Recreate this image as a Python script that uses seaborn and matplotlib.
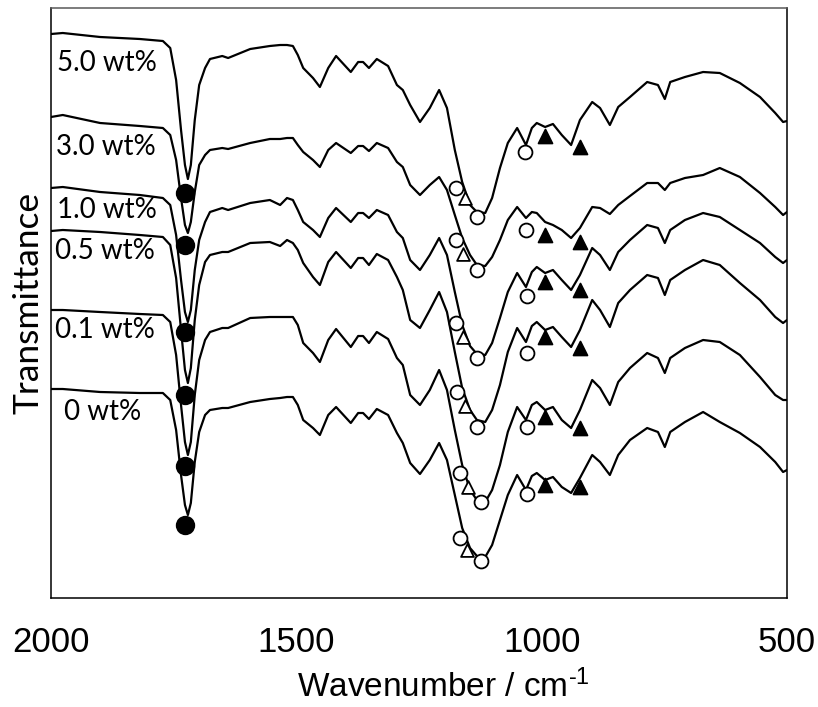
import numpy as np
import pandas as pd
import matplotlib
matplotlib.use("Agg")
import matplotlib.pyplot as plt
from matplotlib.ticker import FixedLocator, MultipleLocator
import seaborn as sns

# ---------------- data ----------------
wavenumber = [2000, 1976, 1900, 1819, 1772, 1757, 1745, 1735, 1727, 1721,
              1715, 1707, 1698, 1686, 1676, 1651, 1639, 1594, 1554, 1533,
              1519, 1507, 1497, 1486, 1466, 1452, 1435, 1419, 1389, 1374,
              1364, 1352, 1336, 1313, 1295, 1283, 1268, 1248, 1228, 1209,
              1193, 1177, 1162, 1146, 1132, 1115, 1101, 1085, 1069, 1050,
              1032, 1020, 1010, 993, 977, 959, 940, 922, 897, 881,
              861, 844, 820, 785, 763, 749, 738, 708, 671, 637,
              596, 555, 524, 508, 500]

samples = ["5.0 wt%", "3.0 wt%", "1.0 wt%", "0.5 wt%", "0.1 wt%", "0 wt%"]

t_50 = [566, 567, 563, 561, 559, 552, 520, 470, 435, 421,
        435, 480, 515, 532, 541, 544, 542, 551, 554, 555,
        555, 554, 545, 532, 522, 513, 532, 544, 528, 538,
        538, 532, 541, 534, 515, 510, 495, 478, 492, 510,
        492, 450, 418, 395, 388, 387, 402, 432, 457, 472,
        455, 472, 477, 473, 476, 465, 455, 480, 498, 492,
        475, 493, 503, 518, 515, 501, 518, 523, 528, 527,
        517, 503, 487, 478, 479]
t_30 = [483, 485, 477, 474, 472, 465, 440, 402, 375, 367,
        378, 408, 435, 445, 450, 452, 451, 457, 461, 461,
        462, 462, 455, 448, 440, 433, 450, 457, 447, 454,
        454, 449, 457, 452, 438, 433, 415, 405, 415, 423,
        410, 385, 362, 345, 335, 334, 343, 360, 380, 393,
        382, 388, 387, 378, 375, 370, 362, 372, 393, 392,
        386, 395, 404, 417, 417, 410, 417, 422, 425, 432,
        423, 407, 393, 385, 388]
t_10 = [412, 413, 408, 405, 402, 395, 365, 320, 288, 278,
        290, 330, 360, 378, 388, 392, 390, 397, 400, 395,
        402, 400, 390, 378, 370, 363, 382, 392, 378, 387,
        387, 382, 390, 385, 368, 362, 340, 330, 345, 362,
        345, 308, 275, 254, 246, 245, 257, 282, 308, 327,
        313, 328, 333, 327, 330, 320, 310, 325, 352, 345,
        330, 348, 360, 375, 372, 357, 370, 380, 387, 383,
        370, 357, 343, 337, 340]
t_05 = [369, 370, 368, 365, 363, 355, 322, 270, 230, 217,
        232, 280, 315, 338, 345, 348, 348, 357, 358, 354,
        360, 357, 350, 337, 323, 315, 338, 348, 332, 342,
        342, 335, 346, 340, 323, 310, 280, 272, 290, 308,
        288, 248, 212, 190, 180, 178, 190, 215, 248, 272,
        258, 274, 278, 270, 273, 263, 253, 270, 300, 290,
        273, 297, 310, 325, 322, 305, 320, 330, 340, 335,
        317, 300, 283, 277, 280]
t_01 = [290, 290, 288, 286, 285, 278, 245, 195, 158, 145,
        158, 205, 240, 260, 268, 272, 272, 282, 283, 283,
        283, 283, 275, 257, 247, 238, 260, 271, 253, 264,
        264, 257, 268, 261, 242, 235, 205, 195, 210, 230,
        210, 170, 135, 110, 100, 98, 110, 135, 168, 193,
        180, 195, 198, 190, 193, 180, 172, 190, 220, 212,
        195, 218, 232, 247, 242, 227, 242, 252, 260, 258,
        245, 223, 205, 200, 200]
t_00 = [211, 211, 208, 207, 207, 200, 170, 125, 95, 85,
        97, 138, 168, 185, 190, 192, 192, 198, 201, 202,
        203, 203, 195, 180, 172, 165, 185, 193, 177, 187,
        187, 181, 191, 185, 167, 157, 137, 126, 140, 157,
        140, 105, 72, 52, 44, 43, 55, 80, 105, 125,
        110, 124, 127, 120, 123, 113, 107, 122, 145, 138,
        125, 145, 160, 172, 168, 153, 168, 178, 188, 178,
        167, 153, 138, 128, 130]

# band markers: positions (cm-1) and levels, one per spectrum
co_wn = [1727, 1727, 1727, 1727, 1727, 1727]
co_t = [407, 355, 268, 205, 134, 75]
oc1_wn = [1175, 1175, 1175, 1173, 1167, 1167]
oc1_t = [412, 360, 277, 208, 127, 62]
otri_wn = [1156, 1160, 1160, 1156, 1150, 1152]
otri_t = [402, 346, 263, 194, 113, 50]
oc2_wn = [1132, 1132, 1132, 1132, 1124, 1124]
oc2_t = [383, 330, 242, 173, 98, 39]
oc3_wn = [1034, 1032, 1030, 1030, 1030, 1030]
oc3_t = [448, 370, 304, 247, 173, 106]
ftri1_wn = [993, 993, 993, 993, 993, 993]
ftri1_t = [464, 365, 318, 263, 183, 115]
ftri2_wn = [922, 922, 922, 922, 922, 922]
ftri2_t = [453, 358, 310, 252, 172, 113]

# label anchors (left x in cm-1, baseline level)
label_wn = [1988, 1990, 1988, 1992, 1992, 1974]
label_t = [529, 445, 382, 341, 262, 180]

# ---------------- plotting ----------------
sns.set_style("white")
plt.rcParams["font.family"] = ["Liberation Sans", "DejaVu Sans"]
plt.rcParams["text.color"] = "black"
plt.rcParams["axes.labelcolor"] = "black"
plt.rcParams["xtick.color"] = "black"
plt.rcParams["mathtext.fontset"] = "custom"
plt.rcParams["mathtext.rm"] = "Liberation Sans"
plt.rcParams["mathtext.it"] = "Liberation Sans:italic"
plt.rcParams["mathtext.bf"] = "Liberation Sans:bold"
plt.rcParams["lines.solid_joinstyle"] = "round"

fig = plt.figure(figsize=(8.18, 7.07), dpi=100)
ax = fig.add_axes([51 / 818, 1 - 598 / 707, 736 / 818, 590 / 707])

traces = [t_50, t_30, t_10, t_05, t_01, t_00]
df = pd.DataFrame({
    "wn": np.concatenate([wavenumber] * len(traces)),
    "T": np.concatenate(traces),
    "sample": np.repeat(samples, len(wavenumber)),
})
sns.lineplot(data=df, x="wn", y="T", units="sample", estimator=None,
             sort=False, color="black", linewidth=1.6, ax=ax, legend=False)

def mk(xs, ys, marker, filled, size):
    sns.scatterplot(x=xs, y=ys, marker=marker, s=size,
                    color="black" if filled else "white",
                    edgecolor="black", linewidth=1.3, ax=ax,
                    legend=False, zorder=5)

mk(co_wn, co_t, "o", True, 160)
mk(oc1_wn, oc1_t, "o", False, 100)
mk(otri_wn, otri_t, "^", False, 85)
mk(oc2_wn, oc2_t, "o", False, 100)
mk(oc3_wn, oc3_t, "o", False, 100)
mk(ftri1_wn, ftri1_t, "^", True, 100)
mk(ftri2_wn, ftri2_t, "^", True, 100)

for s, x, y in zip(samples, label_wn, label_t):
    ax.text(x, y, s, ha="left", va="baseline", fontsize=20,
            color="black", family=["Lato", "DejaVu Sans"])

ax.set_xlim(2000, 500)
ax.set_ylim(2, 592)
ax.xaxis.set_major_locator(FixedLocator([2000, 1500, 1000, 500]))
ax.xaxis.set_minor_locator(MultipleLocator(50))
ax.set_yticks([])
ax.tick_params(axis="x", which="major", direction="in", length=6.7,
               width=0.9, labelsize=25, pad=20, colors="black")
ax.tick_params(axis="x", which="minor", direction="in", length=5,
               width=0.9, colors="black")
ax.set_xticklabels(["2000", "1500", "1000", "500"])

ax.set_xlabel(r"Wavenumber / cm$^{\text{-1}}$", fontsize=24,
              labelpad=8, color="black", x=0.533)
ax.set_ylabel("Transmittance", fontsize=25.5, family=["Lato", "DejaVu Sans"],
              labelpad=5, color="black")

for side in ["left", "bottom", "right"]:
    ax.spines[side].set_color("black")
    ax.spines[side].set_linewidth(1.1)
ax.spines["top"].set_color("#595959")
ax.spines["top"].set_linewidth(1.1)

fig.savefig("out.png", dpi=100)
